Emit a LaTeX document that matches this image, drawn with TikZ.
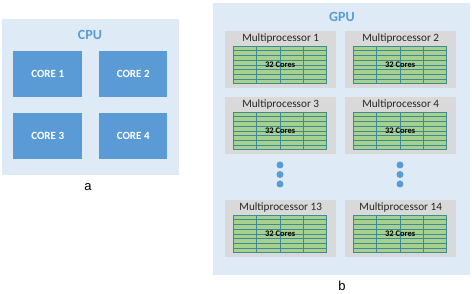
\documentclass[tikz,border=0pt]{standalone}
\usepackage{fontspec}
\setmainfont{Carlito}
\newfontfamily\arialf{Liberation Sans}
\definecolor{bgblue}{HTML}{DEEBF7}
\definecolor{coreblue}{HTML}{5B9BD5}
\definecolor{mpgray}{HTML}{D9D9D9}
\definecolor{cgreen}{HTML}{A9D18E}
\definecolor{gline}{HTML}{3F8A99}
\tikzset{
  panel/.style={fill=bgblue, draw=none},
  corebox/.style={fill=coreblue, draw=none, text=white, font=\bfseries\fontsize{11}{13}\selectfont},
  title/.style={text=coreblue, font=\bfseries\fontsize{14}{16}\selectfont},
  mpbox/.style={fill=mpgray, draw=none},
  mplabel/.style={font=\fontsize{11.2}{13}\selectfont, text=black!85},
  clabel/.style={font=\bfseries\fontsize{8.5}{10}\selectfont},
  sublabel/.style={font=\arialf\fontsize{13}{15}\selectfont},
  dot/.style={circle, fill=coreblue, minimum size=7pt, inner sep=0pt}
}
\newcommand{\mproc}[4]{% name, left x, top y, label
  \node[mpbox, minimum width=111pt, minimum height=57pt, anchor=north west, inner sep=0pt] (#1) at (#2,#3) {};
  \node[mplabel] (#1l) at ($(#1.north)+(0,8)$) {#4};
  \node[fill=cgreen, draw=gline, line width=0.7pt, minimum width=93pt, minimum height=37pt, anchor=north, inner sep=0pt] (#1g) at ($(#1.north)+(-0.5,15)$) {};
  \foreach \i in {1,...,7} {\draw[gline, line width=0.6pt] ($(#1g.north west)!\i/8!(#1g.south west)$) -- ($(#1g.north east)!\i/8!(#1g.south east)$);}
  \foreach \i in {1,...,3} {\draw[gline, line width=0.7pt] ($(#1g.north west)!\i/4!(#1g.north east)$) -- ($(#1g.south west)!\i/4!(#1g.south east)$);}
  \node[clabel] (#1c) at (#1g.center) {32 Cores};
}
\usetikzlibrary{calc}
\begin{document}
\begin{tikzpicture}[x=1pt, y=-1pt]
\useasboundingbox (0,0) rectangle (472,294);
% CPU
\node[panel, minimum width=177pt, minimum height=156pt, anchor=north west, inner sep=0pt] (cpu) at (2,19) {};
\node[title] (cpul) at (90,35) {CPU};
\node[corebox, minimum width=69pt, minimum height=46pt, anchor=north west, inner sep=0pt] (c1) at (13,51) {CORE 1};
\node[corebox, minimum width=68pt, minimum height=46pt, anchor=north west, inner sep=0pt] (c2) at (99,51) {CORE 2};
\node[corebox, minimum width=69pt, minimum height=46pt, anchor=north west, inner sep=0pt] (c3) at (13,113) {CORE 3};
\node[corebox, minimum width=68pt, minimum height=46pt, anchor=north west, inner sep=0pt] (c4) at (99,113) {CORE 4};
\node[sublabel] (la) at (88,187) {a};
% GPU
\node[panel, minimum width=257pt, minimum height=272pt, anchor=north west, inner sep=0pt] (gpu) at (213,3) {};
\node[title] (gpul) at (342,17) {GPU};
\mproc{mp1}{225}{31}{Multiprocessor 1}
\mproc{mp2}{345}{31}{Multiprocessor 2}
\mproc{mp3}{225}{97}{Multiprocessor 3}
\mproc{mp4}{345}{97}{Multiprocessor 4}
\mproc{mp13}{225}{200}{Multiprocessor 13}
\mproc{mp14}{345}{200}{Multiprocessor 14}
\node[dot] (d1) at (280,165) {};
\node[dot] (d2) at (280,174.5) {};
\node[dot] (d3) at (280,184) {};
\node[dot] (d4) at (400,165) {};
\node[dot] (d5) at (400,174.5) {};
\node[dot] (d6) at (400,184) {};
\node[sublabel] (lb) at (342,286) {b};
\end{tikzpicture}
\end{document}
